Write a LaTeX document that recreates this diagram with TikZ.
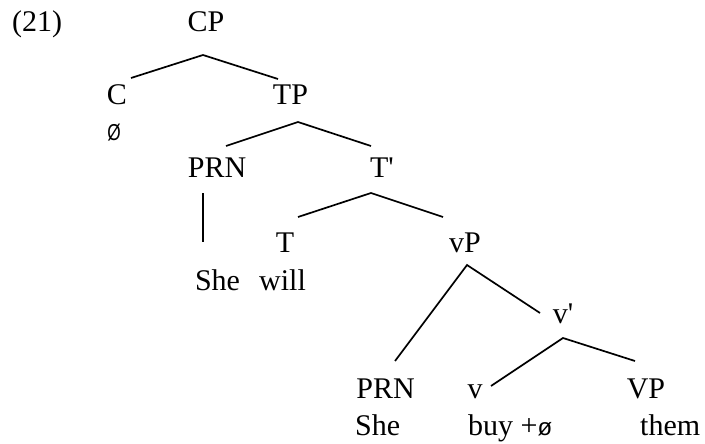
\documentclass[tikz,border=0pt]{standalone}
\usepackage{fontspec}
\setmainfont{Liberation Serif}
\newfontfamily\emptysans{Liberation Sans}
\usepackage{tikz}
\usetikzlibrary{positioning}
\tikzset{
  cat/.style={inner sep=0pt, anchor=base},
  leaf/.style={inner sep=0pt, anchor=base west},
  branch/.style={line width=1.7pt, black},
}
\newcommand{\nullC}{{\emptysans\fontsize{23}{23}\selectfont\scalebox{0.75}[1]{Ø}}}
\newcommand{\nullv}{{\emptysans\fontsize{24}{24}\selectfont ø}}

\begin{document}
\begin{tikzpicture}[x=1pt, y=1pt, font=\fontsize{30}{36}\selectfont]
    \useasboundingbox (0,0) rectangle (705,-444);
    \node[leaf] (num) at (12,-32) {(21)};
    % categories, placed at their baselines
    \node[cat] (cp) at (206,-32) {CP};
    \node[cat] (c) at (117,-105) {C};
    \node[cat] (tp) at (290.5,-105) {TP};
    \node[cat] (cnull) at (114,-140) {\nullC};
    \node[cat] (prn) at (217,-177) {PRN};
    \node[cat] (tbar) at (382,-177) {T\textquotesingle};
    \node[cat] (t) at (285,-252) {T};
    \node[cat] (vp) at (465,-252) {vP};
    \node[cat] (she) at (217.5,-290) {She};
    \node[cat] (will) at (282.5,-290) {will};
    \node[cat] (vbar) at (563,-323) {v\textquotesingle};
    \node[cat] (prnb) at (385.5,-398) {PRN};
    \node[cat] (v) at (475,-398) {v};
    \node[cat] (vpb) at (646,-398) {VP};
    \node[leaf] (sheb) at (355,-435) {She};
    \node[leaf] (buy) at (468,-435) {buy +\nullv};
    \node[leaf] (them) at (640,-435) {them};
    % branches
    \draw[branch] ([shift={(14,27)}]c.base) -- ([shift={(-3,-23)}]cp.base)
      -- ([shift={(-12.5,26)}]tp.base);
    \draw[branch] ([shift={(9,31)}]prn.base) -- ([shift={(7.5,-17)}]tp.base)
      -- ([shift={(-11,31)}]tbar.base);
    \draw[branch] ([shift={(-14,-16)}]prn.base) -- ([shift={(-14.5,48)}]she.base);
    \draw[branch] ([shift={(13,35)}]t.base) -- ([shift={(-11,-16)}]tbar.base)
      -- ([shift={(-22,35)}]vp.base);
    \draw[branch] ([shift={(9.5,37)}]prnb.base) -- ([shift={(2,-13)}]vp.base)
      -- ([shift={(-23,10)}]vbar.base);
    \draw[branch] ([shift={(16,12)}]v.base) -- ([shift={(0,-15)}]vbar.base)
      -- ([shift={(-11,37)}]vpb.base);
  \end{tikzpicture}
\end{document}
